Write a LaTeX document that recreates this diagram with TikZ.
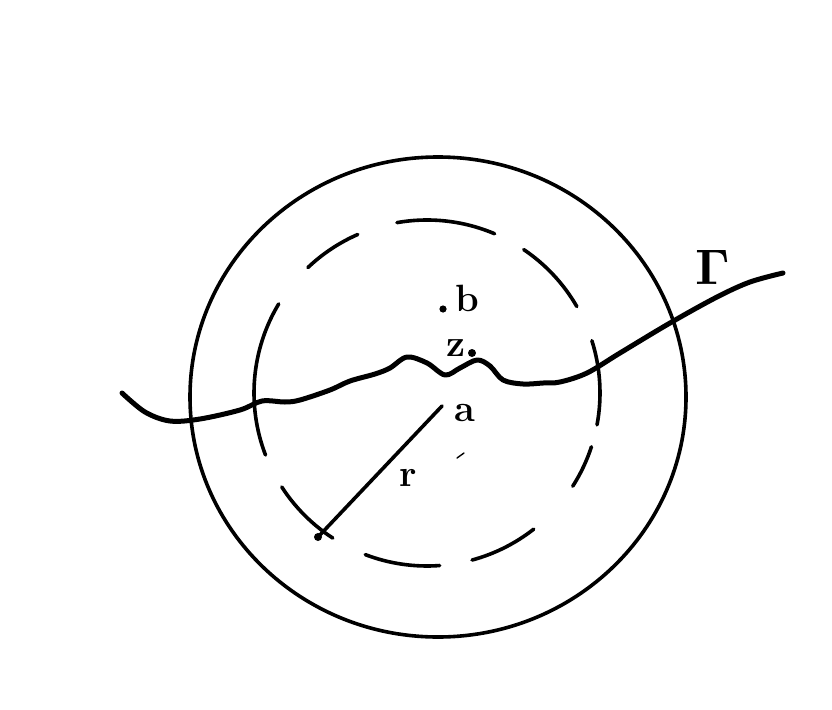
\documentclass[tikz,border=0pt]{standalone}
\usetikzlibrary{calc}
\begin{document}
\begin{tikzpicture}[x=1pt,y=1pt,
  stroke/.style={line width=3.6pt,line cap=round,line join=round},
  thick stroke/.style={line width=5pt,line cap=round,line join=round},
  lbl/.style={inner sep=0pt,font=\fontsize{38}{38}\selectfont\bfseries}]
\useasboundingbox (0,-709) rectangle (832,0);
\fill[white] (0,-709) rectangle (832,0);
% outer circle
\coordinate (O) at (438,-397);
\draw[stroke] (O) ellipse [x radius=248pt, y radius=240pt];
% dashed circle drawn as hand dashes
\coordinate (C) at (427,-393);
\foreach \s/\e in {113.6/133.5, 67/100, 30/56, 149/201, -10.6/17.6, -32.6/-18.1, -74.9/-51.9, -110.9/-85.8, -147.1/-123}{
  \draw[stroke] ($(C)+(\s:173pt)$) arc[start angle=\s, end angle=\e, radius=173pt];
}
% Gamma curve
\draw[thick stroke] plot[smooth,tension=0.55] coordinates {(122,-393) (145,-412) (170,-421) (200,-419) (240,-410) (262,-401) (285,-402) (300,-400) (330,-390) (350,-381) (375,-374) (390,-368) (407,-357) (427,-363) (445,-375) (460,-368) (477,-360) (490,-366) (503,-380) (523,-384) (543,-383) (560,-382) (587,-373) (620,-353) (670,-323) (717,-297) (750,-282) (783,-273)};
% radius
\coordinate (A) at (442,-406);
\coordinate (P) at (318,-537);
\draw[stroke] (P) -- (A);
\fill (P) circle (4pt);
% labels
\fill (443,-309) circle (3.6pt);
\node[lbl] (b) at (467,-298) {b};
\node[lbl] (z) at (456,-348) {z};
\fill (472,-353) circle (4pt);
\node[lbl] (a) at (465,-413) {a};
\node[lbl] (r) at (408,-478) {r};
\node[inner sep=0pt,scale=5] (G) at (713,-267) {$\mathbf{\Gamma}$};
\draw[line width=1.4pt,line cap=round] (457,-458) .. controls (460,-456) .. (464,-453);
\end{tikzpicture}
\end{document}
